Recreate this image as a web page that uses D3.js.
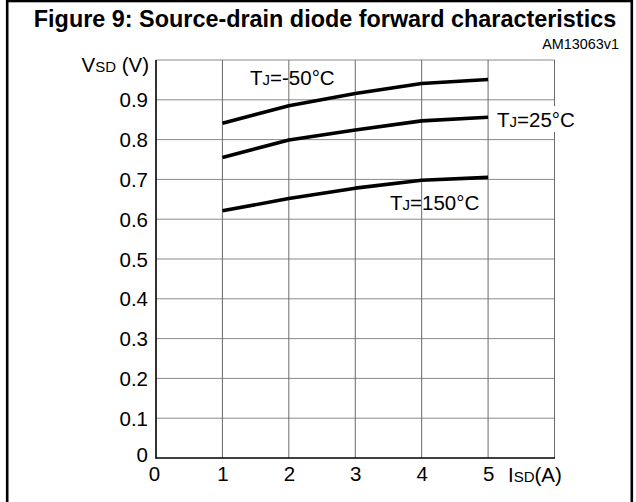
<!DOCTYPE html>
<html><head><meta charset="utf-8">
<script src="https://cdn.jsdelivr.net/npm/d3@7"></script>
<style>
html,body{margin:0;padding:0;background:#fff;}
svg{display:block;font-family:Arial,"Liberation Sans",sans-serif;}
</style></head>
<body>
<svg id="c" width="636" height="502"></svg>
<script>
// Data
const xTicks = [0, 1, 2, 3, 4, 5];
const yTicks = [0, 0.1, 0.2, 0.3, 0.4, 0.5, 0.6, 0.7, 0.8, 0.9];
const isd = [1, 2, 3, 4, 5];
const vsdMinus50 = [0.841, 0.885, 0.916, 0.941, 0.951];
const vsd25 = [0.755, 0.799, 0.824, 0.847, 0.856];
const vsd150 = [0.621, 0.652, 0.678, 0.698, 0.705];
const seriesLabels = ["-50°C", "25°C", "150°C"];

const svg = d3.select("#c");
const L = 156, R = 554.5, T = 60, B = 458;
const x = d3.scaleLinear().domain([0, 6]).range([L, R]);
const y = d3.scaleLinear().domain([0, 1]).range([B, T]);

// outer frame
svg.append("rect").attr("x", 7.2).attr("y", 1).attr("width", 624.6).attr("height", 540)
  .attr("fill", "none").attr("stroke", "#000").attr("stroke-width", 2.6);

// title
svg.append("text").attr("x", 325).attr("y", 27).attr("text-anchor", "middle")
  .attr("font-size", 23.4).attr("font-weight", "bold").text("Figure 9: Source-drain diode forward characteristics");
svg.append("text").attr("x", 619).attr("y", 49).attr("text-anchor", "end")
  .attr("font-size", 14.4).text("AM13063v1");

// grid
const g = svg.append("g");
g.selectAll("line.h").data(yTicks.filter(d => d > 0).concat([1])).join("line")
  .attr("x1", L).attr("x2", R).attr("y1", d => y(d)).attr("y2", d => y(d))
  .attr("stroke", "#8a8a8a").attr("stroke-width", 1);
g.selectAll("line.v").data(xTicks.filter(d => d > 0).concat([6])).join("line")
  .attr("class", "v")
  .attr("y1", T).attr("y2", B).attr("x1", d => x(d)).attr("x2", d => x(d))
  .attr("stroke", "#6a6a6a").attr("stroke-width", 1);
// axes lines
svg.append("line").attr("x1", L).attr("x2", L).attr("y1", T).attr("y2", B + 0.7).attr("stroke", "#000").attr("stroke-width", 1.6);
svg.append("line").attr("x1", L).attr("x2", R + 0.5).attr("y1", B).attr("y2", B).attr("stroke", "#000").attr("stroke-width", 1.6);

// y axis labels
const ya = svg.append("g").attr("transform", `translate(${L},0)`)
  .call(d3.axisLeft(y).tickValues(yTicks).tickSize(0).tickPadding(8).tickFormat(d => d === 0 ? "0" : d3.format(".1f")(d)));
ya.select(".domain").remove();
ya.selectAll("text").attr("font-size", 20.5).attr("font-family", "Arial, 'Liberation Sans', sans-serif").attr("fill", "#000")
  .attr("dy", d => d === 0 ? "0.15em" : "0.35em");

// x axis labels
const xa = svg.append("g").attr("transform", `translate(0,${B})`)
  .call(d3.axisBottom(x).tickValues(xTicks).tickSize(0).tickPadding(8).tickFormat(d3.format("d")));
xa.select(".domain").remove();
xa.selectAll("text").attr("font-size", 20.5).attr("font-family", "Arial, 'Liberation Sans', sans-serif").attr("fill", "#000")
  .attr("dx", d => d === 0 ? -2 : 0);

// axis titles
const yt = svg.append("text").attr("x", 149).attr("y", 72).attr("text-anchor", "end").attr("font-size", 20.5);
yt.append("tspan").text("V");
yt.append("tspan").attr("font-size", 15).text("SD");
yt.append("tspan").text(" (V)");
const xt = svg.append("text").attr("x", 508).attr("y", 482).attr("font-size", 20.5);
xt.append("tspan").text("I");
xt.append("tspan").attr("font-size", 15).text("SD");
xt.append("tspan").text("(A)");

// curves
const line = d3.line().x((d, i) => x(isd[i])).y(d => y(d));
[vsdMinus50, vsd25, vsd150].forEach(s => {
  svg.append("path").attr("d", line(s)).attr("fill", "none").attr("stroke", "#000")
    .attr("stroke-width", 3.6).attr("stroke-linecap", "butt").attr("stroke-linejoin", "round");
});

// curve labels
function tlabel(xp, yp, txt) {
  const t = svg.append("text").attr("x", xp).attr("y", yp).attr("font-size", 20.5);
  t.append("tspan").text("T");
  t.append("tspan").attr("font-size", 15).text("J");
  t.append("tspan").text("=" + txt);
  return t;
}
// white backing for label crossing the plot border
svg.append("rect").attr("x", 495).attr("y", 106).attr("width", 88).attr("height", 26).attr("fill", "#fff");
tlabel(250, 85, seriesLabels[0]);
tlabel(497, 127, seriesLabels[1]);
tlabel(390, 210, seriesLabels[2]);
</script>
</body></html>
